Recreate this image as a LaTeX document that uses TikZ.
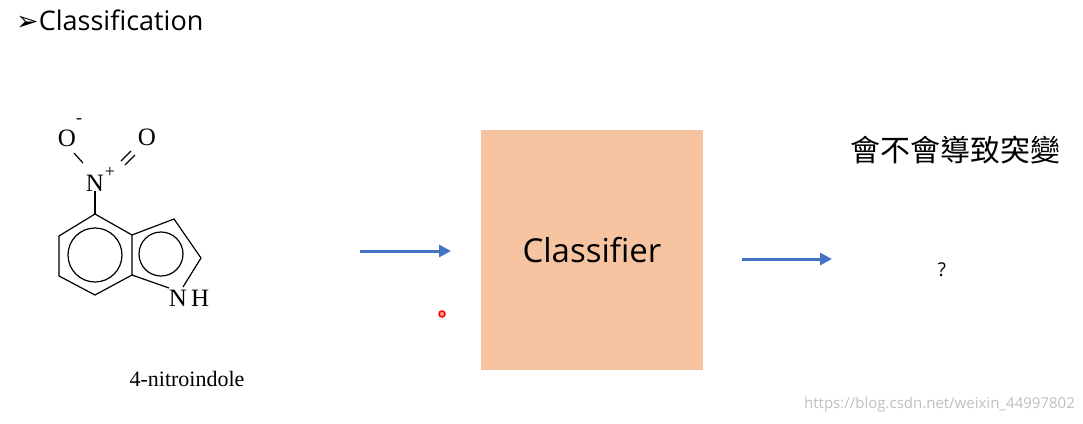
\documentclass[tikz,border=0pt]{standalone}
\usepackage{fontspec}
\setmainfont{Liberation Serif}
\newfontfamily\sansf{Open Sans}
\newfontfamily\dejav{DejaVu Sans}
\newfontfamily\cjk{Noto Sans CJK TC}
\usetikzlibrary{arrows.meta}
\definecolor{boxfill}{HTML}{F7C4A2}
\definecolor{arrblue}{HTML}{4472C4}
\tikzset{
  atom/.style={inner sep=0pt, font=\fontsize{25}{25}\selectfont},
  bond/.style={line width=1.2pt},
  flow/.style={arrblue, line width=3pt, -{Triangle[length=12pt,width=12pt]}},
}
\begin{document}
\begin{tikzpicture}[x=1pt,y=-1pt]
\useasboundingbox (0,0) rectangle (1083,423);
% title
\node[anchor=west, inner sep=0pt, font=\sansf\fontsize{27}{27}\selectfont] (title) at (16,20) {{\dejav\fontsize{27}{27}\selectfont ➢}Classification};
% molecule
\coordinate (h1) at (95,214);
\coordinate (h2) at (59,236);
\coordinate (h3) at (59,276);
\coordinate (h4) at (95,295);
\coordinate (h5) at (132,275);
\coordinate (h6) at (132,235);
\coordinate (p1) at (174,219);
\coordinate (p2) at (201,258);
\coordinate (p3) at (183,287);
\coordinate (p4) at (169,288);
\node[atom] (nh) at (189,298) {N\,H};
\draw[bond] (h1) -- (h2) -- (h3) -- (h4) -- (h5) -- (h6) -- cycle;
\draw[bond] (h6) -- (p1) -- (p2) -- (p3);
\draw[bond] (h5) -- (p4);
\draw[bond] (95,255) circle (27);
\draw[bond] (161,254) circle (22);
\node[atom] (nplus) at (95,183) {N};
\node[atom, font=\fontsize{18}{18}\selectfont] at (110,172) {+};
\node[atom] (om) at (67,138) {O};
\node[atom, font=\fontsize{18}{18}\selectfont] at (79,121) {-};
\node[atom] (od) at (147,137) {O};
\draw[bond] (nplus.south) -- (h1);
\draw[bond] (74,153) -- (83,163);
\draw[bond] (121,161) -- (131,151);
\draw[bond] (125,165) -- (135,155);
\node[atom, font=\fontsize{22}{22}\selectfont] (name) at (187,379) {4-nitroindole};
% classifier
\node[fill=boxfill, minimum width=222pt, minimum height=240pt, inner sep=0pt,
  font=\sansf\fontsize{33}{33}\selectfont] (clf) at (592,250) {Classifier};
\coordinate (in) at (360,251);
\coordinate (inend) at (451,251);
\draw[flow] (in) -- (inend);
\node[inner sep=0pt] (out) at (942,270) {\sansf\fontsize{19}{19}\selectfont ?};
\coordinate (outstart) at (742,259);
\coordinate (outend) at (832,259);
\draw[flow] (outstart) -- (outend);
\node[inner sep=0pt, font=\cjk\fontsize{30}{30}\selectfont] (q) at (955,150) {會不會導致突變};
% pointer and watermark
\draw[red, line width=1.5pt, fill=red!40] (442,314) circle (3);
\node[anchor=east, inner sep=0pt, text=black!25, font=\sansf\fontsize{15}{15}\selectfont] (wm) at (1075,405) {https://blog.csdn.net/weixin\_44997802};
\end{tikzpicture}
\end{document}
